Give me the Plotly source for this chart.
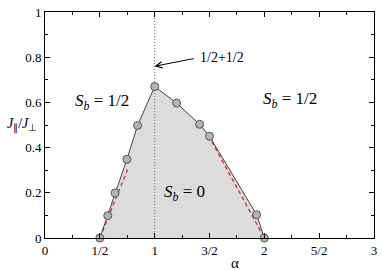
import plotly.graph_objects as go

# Phase boundary data
alpha = [0.5, 0.572, 0.639, 0.747, 0.844, 1.0, 1.2, 1.41, 1.5, 1.93, 2.0]
jratio = [0.0, 0.099, 0.199, 0.348, 0.498, 0.67, 0.597, 0.503, 0.450, 0.103, 0.0]

# Red dashed asymptotic lines
red_left_x = [0.5, 0.753]
red_left_y = [0.0, 0.303]
red_right_x = [1.49, 2.0]
red_right_y = [0.455, 0.0]

xtick_vals = [0, 0.5, 1, 1.5, 2, 2.5, 3]
xtick_text = ["0", "1/2", "1", "3/2", "2", "5/2", "3"]
ytick_vals = [0, 0.2, 0.4, 0.6, 0.8, 1]
ytick_text = ["0", "0.2", "0.4", "0.6", "0.8", "1"]

FAM = "Liberation Serif"
font = dict(family=FAM, size=13, color="black")

fig = go.Figure()
fig.add_trace(go.Scatter(x=alpha, y=jratio, mode="none", fill="toself",
                         fillcolor="#dcdcdc", hoverinfo="skip", showlegend=False))
fig.add_trace(go.Scatter(x=[1, 1], y=[0, 1], mode="lines",
                         line=dict(color="#666666", width=1, dash="1px,2px"), showlegend=False))
fig.add_trace(go.Scatter(x=red_left_x, y=red_left_y, mode="lines",
                         line=dict(color="#ee2222", width=1.3, dash="4px,3px"), showlegend=False))
fig.add_trace(go.Scatter(x=red_right_x, y=red_right_y, mode="lines",
                         line=dict(color="#ee2222", width=1.3, dash="4px,3px"), showlegend=False))
fig.add_trace(go.Scatter(x=alpha, y=jratio, mode="lines+markers",
                         line=dict(color="#444444", width=1),
                         marker=dict(size=8, color="#b4b4b4", line=dict(color="#555555", width=1)),
                         showlegend=False, cliponaxis=False))

axis_common = dict(showline=True, linecolor="black", linewidth=1, mirror="ticks",
                   ticks="inside", tickcolor="black", showgrid=False, zeroline=False,
                   tickfont=font, ticklabeloverflow="allow")
fig.update_xaxes(range=[0, 3], tickvals=xtick_vals, ticktext=xtick_text, ticklen=5,
                 minor=dict(dtick=0.25, ticks="inside", ticklen=3, tickcolor="black", showgrid=False),
                 **axis_common)
fig.update_yaxes(range=[0, 1], tickvals=ytick_vals, ticktext=ytick_text, ticklen=5,
                 minor=dict(dtick=0.1, ticks="inside", ticklen=3, tickcolor="black", showgrid=False),
                 **axis_common)

lab = dict(family=FAM, size=17, color="black")
ann = [
    dict(x=0.52, y=0.60, text="<i>S</i><sub><i>b</i></sub> = 1/2", showarrow=False, xref="x", yref="y", font=lab),
    dict(x=2.23, y=0.61, text="<i>S</i><sub><i>b</i></sub> = 1/2", showarrow=False, xref="x", yref="y", font=lab),
    dict(x=1.27, y=0.20, text="<i>S</i><sub><i>b</i></sub> = 0", showarrow=False, xref="x", yref="y", font=lab),
    dict(x=1.0, y=0.76, ax=1.37, ay=0.795, axref="x", ayref="y", xref="x", yref="y",
         text="", showarrow=True, arrowhead=5, arrowsize=1.2, arrowwidth=1, arrowcolor="black"),
    dict(x=1.395, y=0.80, text="1/2+1/2", showarrow=False, xref="x", yref="y", xanchor="left",
         font=dict(family=FAM, size=14, color="black")),
    dict(x=1.73, y=-0.11, text="α", showarrow=False, xref="x", yref="paper", yanchor="middle",
         font=dict(family=FAM, size=15, color="black")),
    dict(x=-0.07, y=0.50, text="<i>J</i><sub>∥</sub>/<i>J</i><sub>⊥</sub>", showarrow=False,
         xref="paper", yref="y", xanchor="center", font=dict(family=FAM, size=14, color="black")),
]
fig.update_layout(width=382, height=270, margin=dict(l=45, r=6, t=5, b=32),
                  plot_bgcolor="white", paper_bgcolor="white", font=font,
                  annotations=ann)

fig.write_html("out.html", config={"displayModeBar": False},
               post_script="document.body.style.margin='0';document.body.style.padding='0';")
